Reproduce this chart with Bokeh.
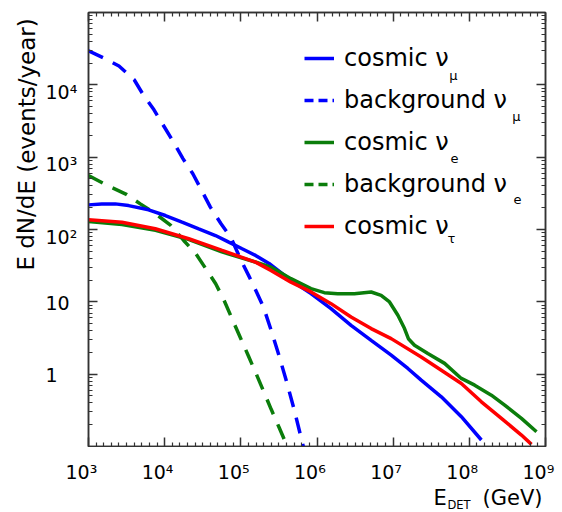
from bokeh.plotting import figure
from bokeh.models import FixedTicker, LogAxis, Legend, LegendItem, Range1d, CustomJSTickFormatter
from bokeh.layouts import column, row
from bokeh.core.properties import value
from bokeh.embed import file_html
from bokeh.resources import INLINE

# ---- data: energy E_DET (GeV) and E dN/dE (events/year) ----
bg_mu_E = [1000, 1585, 2512, 3981, 5248, 7079, 10000, 13183, 17378, 23442, 29512, 39811,
           54954, 74131, 100000, 125893, 158489, 199526, 251189, 316228, 398107, 501187, 660693]
bg_mu_N = [29512, 23442, 18197, 11749, 7244, 4677, 2570, 1585, 955, 589, 372, 204,
           120, 77.6, 38.0, 23.4, 14.1, 8.32, 3.98, 1.82, 0.794, 0.324, 0.1]

bg_e_E = [1000, 1778, 3090, 4786, 7586, 12023, 17783, 25704, 34674, 46774, 60256, 79433,
          100000, 125893, 158489, 199526, 251189, 316228, 407380]
bg_e_N = [556, 405, 309, 226, 165, 114, 70.5, 46.2, 28.7, 17.8, 10.5, 5.37,
          3.09, 1.78, 1.02, 0.575, 0.324, 0.186, 0.1]

mu_E = [1000, 1496, 2244, 3357, 6152, 10209, 16904, 27990, 46452, 69502, 103992, 155955,
        234423, 454988, 833681, 1527566, 2798981, 5140437, 9418896, 15595525, 23334580,
        42854852, 78523563, 143879894]
mu_N = [219, 226, 226, 214, 187, 156, 126, 102, 82.6, 66.8, 54.1, 43.8,
        33.9, 19.8, 13.0, 8.05, 4.74, 2.94, 1.83, 1.20, 0.826,
        0.486, 0.258, 0.123]

e_E = [1000, 2754, 7586, 20893, 56234, 154882, 248313, 454988, 833681, 1247384, 1870682,
       3097419, 5140437, 6950243, 8953648, 11534532, 14093050, 15848932, 19054607, 28510183,
       47315126, 78523563, 117489756, 194536850, 291070000, 483059000, 762079000]
e_N = [128.8, 117.5, 97.7, 72.4, 49.0, 35.5, 30.2, 20.9, 15.2, 13.4, 12.97,
       12.97, 13.68, 12.30, 9.95, 6.52, 4.27, 3.09, 2.51, 1.93,
       1.41, 0.873, 0.705, 0.513, 0.373, 0.245, 0.160]

tau_E = [1000, 2748, 7534, 20701, 56754, 155955, 248313, 454988, 833681, 1527566, 2798981,
         5140437, 9418896, 23334580, 42854852, 78523563, 143879894, 263633000, 483059000,
         654636000]
tau_N = [136.1, 126.2, 102.3, 74.5, 51.3, 35.4, 27.2, 18.7, 13.7, 9.44, 6.17,
         4.27, 3.10, 1.73, 1.135, 0.743, 0.415, 0.245, 0.144, 0.107]

x_ticks = [1000, 10000, 100000, 1000000, 10000000, 100000000, 1000000000]
x_tick_labels = ["10³", "10⁴", "10⁵", "10⁶", "10⁷", "10⁸", "10⁹"]
y_ticks = [1, 10, 100, 1000, 10000]
y_tick_labels = ["1", "10", "10²", "10³", "10⁴"]

legend_labels = ["cosmic ν", "background ν", "cosmic ν", "background ν", "cosmic ν"]
legend_subs = ["μ", "μ", "e", "e", "τ"]

y_title = "E dN/dE (events/year)"
x_title = ["E", "DET", "(GeV)"]

# ---- styling ----
FONT = value("DejaVu Sans")
AX = "#333333"
BLUE = "#0000ff"
GREEN = "#0b7d0b"
RED = "#ff0000"
LW = 3.5
DASH = "16 11"

X0, X1, Y0, Y1 = 1e3, 1e9, 0.1, 1e5
x_minor = [10 ** (d + k / 10) for d in range(3, 9) for k in range(1, 10)]
y_minor = [k * 10.0 ** d for d in range(-1, 5) for k in range(2, 10)]

common = dict(output_backend="svg", toolbar_location=None)

# ---- main plot ----
p = figure(width=475, height=447, x_axis_type="log", y_axis_type="log",
           x_range=Range1d(X0, X1), y_range=Range1d(Y0, Y1),
           min_border_left=1, min_border_right=17, min_border_top=12, min_border_bottom=1,
           **common)
p.title.visible = False
p.grid.visible = False
p.outline_line_color = AX
p.outline_line_width = 1.5
p.background_fill_color = "white"
p.border_fill_color = "white"


def style(ax, ticks, minor):
    ax.ticker = FixedTicker(ticks=ticks, minor_ticks=minor)
    ax.formatter = CustomJSTickFormatter(code="return ''")
    ax.axis_line_color = AX
    ax.axis_line_width = 1.5
    ax.major_tick_line_color = AX
    ax.minor_tick_line_color = AX
    ax.major_tick_line_width = 1.5
    ax.minor_tick_line_width = 1.2
    ax.major_tick_in = 9
    ax.major_tick_out = 0
    ax.minor_tick_in = 4
    ax.minor_tick_out = 0
    ax.major_label_standoff = 0


style(p.xaxis[0], x_ticks, x_minor)
style(p.yaxis[0], y_ticks, y_minor)
top = LogAxis()
style(top, x_ticks, x_minor)
p.add_layout(top, "above")
right = LogAxis()
style(right, y_ticks, y_minor)
p.add_layout(right, "right")

r_bgmu = p.line(bg_mu_E, bg_mu_N, line_color=BLUE, line_width=LW, line_dash=DASH)
r_bge = p.line(bg_e_E, bg_e_N, line_color=GREEN, line_width=LW, line_dash=DASH)
r_mu = p.line(mu_E, mu_N, line_color=BLUE, line_width=LW)
r_e = p.line(e_E, e_N, line_color=GREEN, line_width=LW)
r_tau = p.line(tau_E, tau_N, line_color=RED, line_width=LW)

# key-only copies of the background curves (hidden), with the shorter dashes of the key
leg_bgmu = p.line(bg_mu_E, bg_mu_N, line_color=BLUE, line_width=LW, line_dash="9 5", visible=False)
leg_bge = p.line(bg_e_E, bg_e_N, line_color=GREEN, line_width=LW, line_dash="9 5", visible=False)

renderers = [r_mu, leg_bgmu, r_e, leg_bge, r_tau]
legend = Legend(items=[LegendItem(label=l, renderers=[r]) for l, r in zip(legend_labels, renderers)],
                location=(216, 205), padding=0, margin=0, spacing=12,
                glyph_width=30, glyph_height=30, label_height=30, label_standoff=10,
                label_text_font="DejaVu Sans", label_text_font_size="24px",
                label_text_color="black", border_line_alpha=0, background_fill_alpha=0,
                inactive_fill_alpha=0)
p.add_layout(legend)

# subscripts of the key entries (pixel offsets from the top-right corner of the frame)
sub_dx = [453 - 545, 516 - 545, 454 - 545, 517 - 545, 451 - 545]
sub_dy = [75 - 12, 116 - 12, 158 - 12, 199 - 12, 238 - 12]
p.text(x=[X1] * 5, y=[Y1] * 5, text=legend_subs, x_offset=sub_dx, y_offset=sub_dy,
       text_font=FONT, text_font_size="13px", text_align="center",
       text_baseline="middle", text_color="black")

# ---- left strip: y tick labels and y title ----
ls = figure(width=87, height=447, y_axis_type="log", x_range=Range1d(0, 87), y_range=p.y_range,
            x_axis_location=None, y_axis_location=None,
            min_border_left=0, min_border_right=0, min_border_top=12, min_border_bottom=1,
            **common)
ls.title.visible = False
ls.grid.visible = False
ls.outline_line_color = None
ls.text(x=[45] * len(y_ticks), y=y_ticks, text=y_tick_labels,
        y_offset=[7 if len(t) > 2 else 1 for t in y_tick_labels],
        text_font=FONT, text_font_size="19px", text_align="left",
        text_baseline="alphabetic", text_color="black")
ls.text(x=[26], y=[1500], text=[y_title], angle=1.5707963,
        text_font=FONT, text_font_size="23px", text_align="center",
        text_baseline="middle", text_color="black")

# ---- bottom strip: x tick labels and x title ----
px_per_dec = 457 / 6
bs = figure(width=562, height=65, x_axis_type="log",
            x_range=Range1d(10 ** (3 - 88 / px_per_dec), 10 ** (9 + 17 / px_per_dec)),
            y_range=Range1d(0, 65), x_axis_location=None, y_axis_location=None,
            min_border_left=0, min_border_right=0, min_border_top=0, min_border_bottom=0,
            **common)
bs.title.visible = False
bs.grid.visible = False
bs.outline_line_color = None
bs.text(x=x_ticks, y=[41] * len(x_ticks), text=x_tick_labels, x_offset=-23,
        text_font=FONT, text_font_size="19px", text_align="left",
        text_baseline="alphabetic", text_color="black")
bs.text(x=[X1] * 3, y=[15, 8, 15], text=x_title, x_offset=[-112, -98, -63],
        text_font=FONT, text_font_size=["21px", "11.5px", "21px"], text_align="left",
        text_baseline="alphabetic", text_color="black")

layout = column(row(ls, p), bs)
open("out.html", "w").write(file_html(layout, INLINE))
